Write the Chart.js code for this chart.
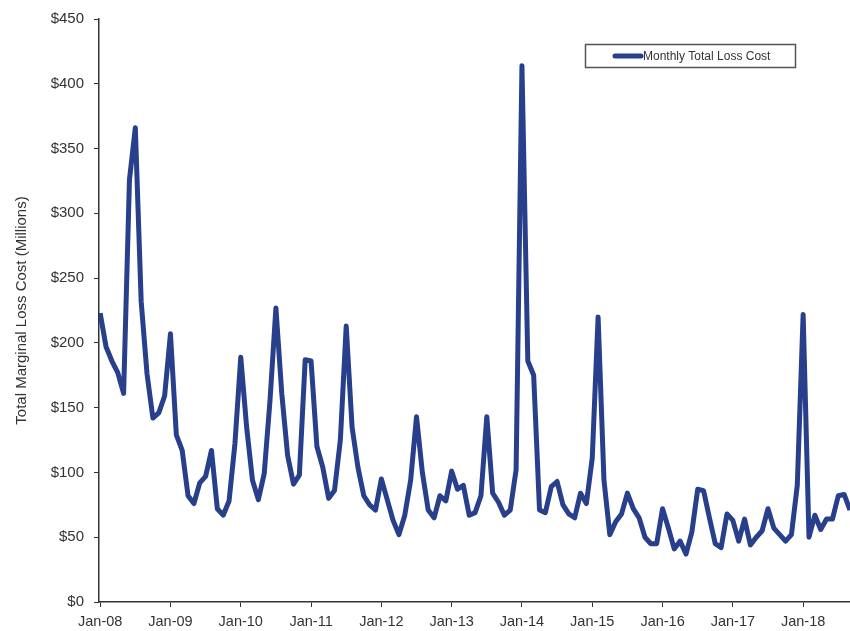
<!DOCTYPE html>
<html>
<head>
<meta charset="utf-8">
<script src="https://cdn.jsdelivr.net/npm/chart.js@4.4.1/dist/chart.umd.min.js"></script>
<style>
  html, body { margin: 0; padding: 0; background: #fff; }
  #wrap { width: 850px; height: 631px; }
</style>
</head>
<body>
<div id="wrap"><canvas id="line"></canvas></div>
<script>
// monthly values, Jan-08 .. Sep-18 ($ millions)
const values2008 = [223, 197, 186, 177, 161, 326, 366, 232, 176, 142, 146, 159];
const values2009 = [207, 129, 117, 82, 76, 92, 97, 117, 72, 67, 78, 122];
const values2010 = [189, 135, 94, 79, 99, 156, 227, 161, 113, 91, 98, 187];
const values2011 = [186, 120, 104, 80, 86, 125, 213, 135, 104, 82, 75, 71];
const values2012 = [95, 79, 63, 52, 67, 94, 143, 100, 71, 65, 82, 78];
const values2013 = [101, 87, 90, 67, 69, 82, 143, 84, 77, 67, 71, 102];
const values2014 = [414, 186, 175, 71, 69, 89, 93, 75, 68, 65, 84, 76];
const values2015 = [111, 220, 94, 52, 62, 68, 84, 72, 65, 50, 45, 45];
const values2016 = [72, 57, 41, 47, 37, 54, 87, 86, 65, 45, 42, 68];
const values2017 = [63, 47, 64, 44, 50, 55, 72, 57, 52, 47, 52, 90];
const values2018 = [222, 50, 67, 56, 64, 64, 82, 83, 71];

const tickLabels = ['Jan-08', 'Jan-09', 'Jan-10', 'Jan-11', 'Jan-12', 'Jan-13',
                    'Jan-14', 'Jan-15', 'Jan-16', 'Jan-17', 'Jan-18'];
const seriesName = 'Monthly Total Loss Cost';
const lineColor = '#283f8b';
const textColor = '#333333';
const fontFam = '"Liberation Sans", Arial, sans-serif';

let allValues = [].concat(values2008, values2009, values2010, values2011, values2012,
  values2013, values2014, values2015, values2016, values2017, values2018);
let points = allValues.map((v, i) => ({ x: i, y: v }));

// legend box drawn inside plot area (top right)
const boxLegend = {
  id: 'boxLegend',
  afterDraw(chart) {
    let c = chart.ctx;
    let a = chart.chartArea;
    let x = a.right - 265, y = a.top + 25, w = 210, h = 23;
    c.save();
    c.strokeStyle = '#555';
    c.lineWidth = 1.5;
    c.strokeRect(x + 0.5, y + 0.5, w, h);
    c.strokeStyle = lineColor;
    c.lineWidth = 5;
    c.lineCap = 'round';
    c.beginPath();
    c.moveTo(x + 30, y + 12);
    c.lineTo(x + 56, y + 12);
    c.stroke();
    c.fillStyle = textColor;
    c.font = '12px ' + fontFam;
    c.textBaseline = 'middle';
    c.fillText(chart.data.datasets[0].label, x + 58, y + 12.5);
    c.restore();
  }
};

let ctx = document.querySelector('#line');
const myChart = new Chart(ctx, {
  type: 'line',
  data: {
    datasets: [{
      label: seriesName,
      data: points,
      borderColor: lineColor,
      backgroundColor: lineColor,
      borderWidth: 5,
      borderJoinStyle: 'round',
      pointRadius: 0,
      tension: 0,
      fill: false
    }]
  },
  options: {
    responsive: true,
    maintainAspectRatio: false,
    animation: false,
    layout: { padding: { top: 18, right: 0, bottom: 0, left: 0 } },
    plugins: {
      legend: { display: false },
      tooltip: { enabled: false }
    },
    scales: {
      x: {
        type: 'linear',
        min: -0.2,
        max: 128,
        afterBuildTicks: (s) => {
          s.ticks = tickLabels.map((t, i) => ({ value: i * 12 }));
        },
        afterFit: (s) => { s.height = 29; },
        ticks: {
          callback: (v, i) => tickLabels[i],
          maxRotation: 0,
          autoSkip: false,
          color: textColor,
          padding: 6,
          font: { family: fontFam, size: 14.5 }
        },
        grid: { drawOnChartArea: false, drawTicks: true, tickLength: 5, color: '#333' },
        border: { display: true, color: '#333', width: 1.5 }
      },
      y: {
        min: 0,
        max: 450,
        afterFit: (s) => { s.width = 99; },
        ticks: {
          stepSize: 50,
          callback: (v) => '$' + v,
          color: textColor,
          padding: 10,
          font: { family: fontFam, size: 15 }
        },
        grid: { drawOnChartArea: false, drawTicks: true, tickLength: 5, color: '#333' },
        border: { display: true, color: '#333', width: 1.5 },
        title: {
          display: true,
          text: 'Total Marginal Loss Cost (Millions)',
          color: textColor,
          padding: { top: 13, bottom: 0 },
          font: { family: fontFam, size: 15 }
        }
      }
    }
  },
  plugins: [boxLegend]
});
</script>
</body>
</html>
